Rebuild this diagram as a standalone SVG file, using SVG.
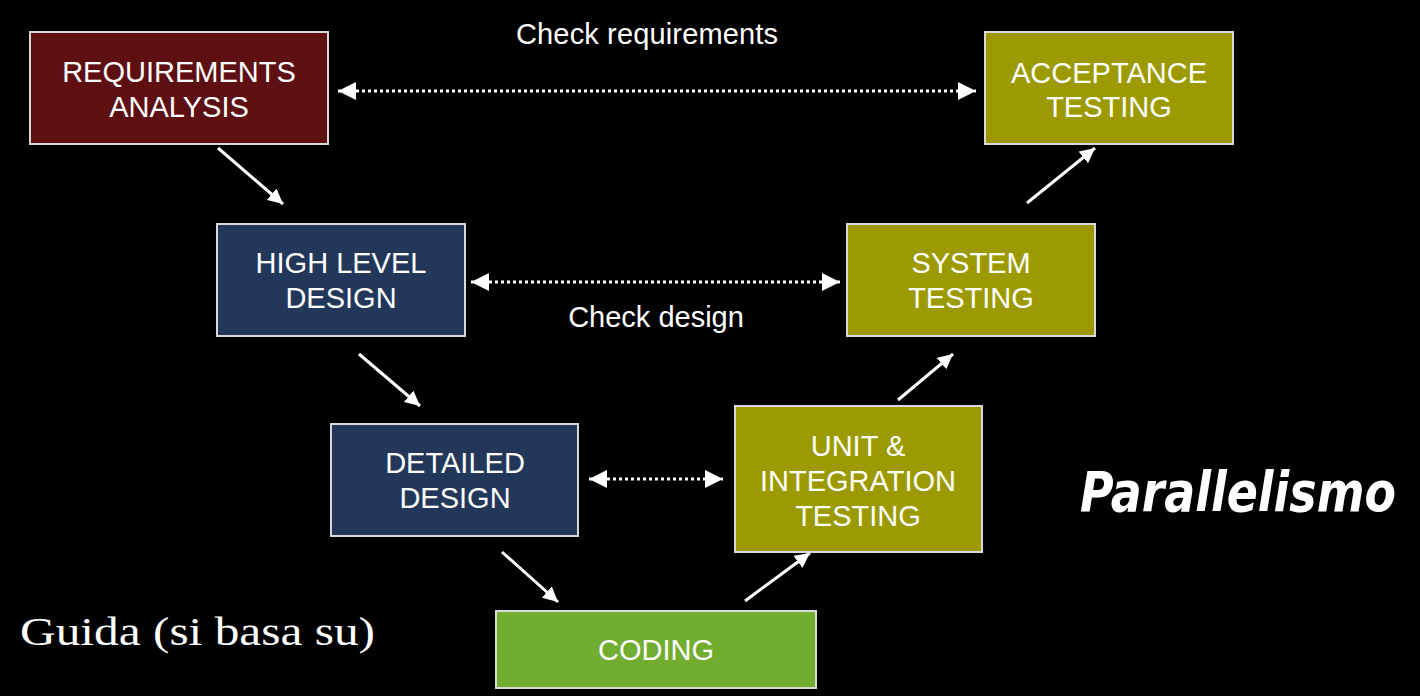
<svg xmlns="http://www.w3.org/2000/svg" width="1420" height="696" viewBox="0 0 1420 696">
<defs>
<marker id="ah" viewBox="0 0 10 10" refX="10" refY="5" markerWidth="5" markerHeight="5" markerUnits="strokeWidth" orient="auto-start-reverse">
<path d="M0,0 L10,5 L0,10 z" fill="#ffffff"/>
</marker>
<marker id="dh" viewBox="0 0 10 10" refX="10" refY="5" markerWidth="6" markerHeight="6" markerUnits="strokeWidth" orient="auto-start-reverse">
<path d="M0,0 L10,5 L0,10 z" fill="#ffffff"/>
</marker>
<style>
.box{stroke:#d9d9d9;stroke-width:2}
.red{fill:#5e0f12}
.blue{fill:#22375a}
.olive{fill:#9c9a00}
.green{fill:#71ae30}
.t{font-family:"Liberation Sans",Arial,sans-serif;font-size:29px;fill:#ffffff;text-anchor:middle}
.flow{stroke:#ffffff;stroke-width:3;fill:none;marker-end:url(#ah)}
.dot{stroke:#ffffff;stroke-width:3;stroke-dasharray:3 3;fill:none;marker-start:url(#dh);marker-end:url(#dh)}
</style>
</defs>
<rect width="1420" height="696" fill="#000000"/>
<g id="connectors">
<line class="flow" x1="218" y1="148" x2="283" y2="204"/>
<line class="flow" x1="359" y1="354" x2="420" y2="406"/>
<line class="flow" x1="502" y1="552" x2="558" y2="602"/>
<line class="flow" x1="745" y1="601" x2="810" y2="553"/>
<line class="flow" x1="898" y1="400" x2="953" y2="354"/>
<line class="flow" x1="1027" y1="203" x2="1095" y2="148"/>
<line class="dot" x1="338" y1="91" x2="976" y2="91"/>
<line class="dot" x1="471" y1="282" x2="840" y2="282"/>
<line class="dot" x1="589" y1="479" x2="723" y2="479"/>
</g>
<g id="req">
<rect class="box red" x="30" y="32" width="298" height="112"/>
<text class="t" x="179" y="82">REQUIREMENTS</text>
<text class="t" x="179" y="117">ANALYSIS</text>
</g>
<g id="acceptance">
<rect class="box olive" x="985" y="32" width="248" height="112"/>
<text class="t" x="1109" y="83">ACCEPTANCE</text>
<text class="t" x="1109" y="117">TESTING</text>
</g>
<g id="highlevel">
<rect class="box blue" x="217" y="224" width="248" height="112"/>
<text class="t" x="341" y="273">HIGH LEVEL</text>
<text class="t" x="341" y="308">DESIGN</text>
</g>
<g id="system">
<rect class="box olive" x="847" y="224" width="248" height="112"/>
<text class="t" x="971" y="273">SYSTEM</text>
<text class="t" x="971" y="308">TESTING</text>
</g>
<g id="detailed">
<rect class="box blue" x="331" y="424" width="247" height="112"/>
<text class="t" x="455" y="473">DETAILED</text>
<text class="t" x="455" y="508">DESIGN</text>
</g>
<g id="unit">
<rect class="box olive" x="735" y="406" width="247" height="146"/>
<text class="t" x="858" y="456">UNIT &amp;</text>
<text class="t" x="858" y="491">INTEGRATION</text>
<text class="t" x="858" y="526">TESTING</text>
</g>
<g id="coding">
<rect class="box green" x="496" y="611" width="320" height="77"/>
<text class="t" x="656" y="660">CODING</text>
</g>
<g id="labels">
<text class="t" x="647" y="44" textLength="262">Check requirements</text>
<text class="t" x="656" y="327">Check design</text>
<text x="20" y="645" font-family="'Liberation Serif','DejaVu Serif',serif" font-size="40" fill="#ffffff" textLength="355" lengthAdjust="spacingAndGlyphs">Guida (si basa su)</text>
<text x="1080" y="511" font-family="'DejaVu Sans','Liberation Sans',sans-serif" font-size="56" font-weight="bold" font-style="italic" fill="#ffffff" textLength="316" lengthAdjust="spacingAndGlyphs">Parallelismo</text>
</g>
</svg>
